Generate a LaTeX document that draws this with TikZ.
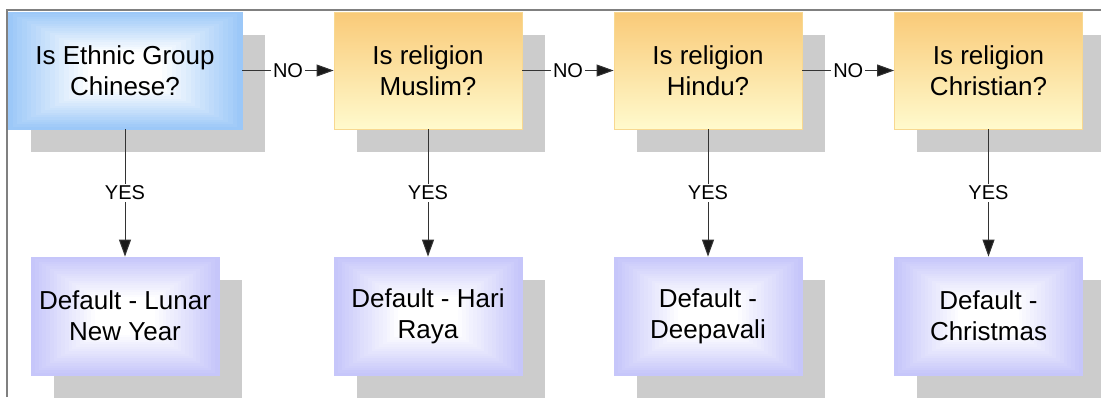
\documentclass[tikz,border=0pt]{standalone}
\usepackage{fontspec}
\setmainfont{Liberation Sans}
\usetikzlibrary{arrows.meta,calc,backgrounds}
\definecolor{blueE}{HTML}{9CC8F8}
\definecolor{lavE}{HTML}{C6C6FA}
\definecolor{orT}{HTML}{F9CA78}
\definecolor{orB}{HTML}{FFFACD}
\definecolor{orD}{HTML}{F8D890}
\definecolor{shadowc}{HTML}{CCCCCC}
\definecolor{framec}{HTML}{808080}
\tikzset{
  rectgrad/.style={path picture={
    \foreach \i in {0,...,24}{
      \pgfmathsetmacro\f{max(0,100-\i*100/17)}
      \fill[#1!\f!white] ($(path picture bounding box.north west)!{\i/50}!(path picture bounding box.south east)$) rectangle ($(path picture bounding box.south east)!{\i/50}!(path picture bounding box.north west)$);
    }}},
  boxtext/.style={align=center, inner sep=0pt, font=\fontsize{26}{31}\selectfont, text=black},
  qblue/.style={boxtext, rectangle, minimum width=234pt, minimum height=117pt, draw=blueE, line width=0.8pt, rectgrad=blueE},
  qorange/.style={boxtext, rectangle, minimum width=188pt, minimum height=117pt, top color=orT, bottom color=orB, draw=orD, line width=0.8pt},
  dbox/.style={boxtext, rectangle, minimum width=188pt, minimum height=118pt, draw=lavE, line width=0.8pt, rectgrad=lavE},
  conn/.style={draw=black!80, line width=1pt, -{Triangle[length=17pt,width=12pt,fill=black!90]}},
  lbl/.style={fill=white, inner sep=2pt, font=\fontsize{20}{24}\selectfont, text=black}
}
\begin{document}
\begin{tikzpicture}[x=1pt,y=-1pt]
\useasboundingbox (0,0) rectangle (1101,397);
\clip (0,0) rectangle (1101,397);

\node[qblue]   (q1) at (125,70.5)   {Is Ethnic Group\\Chinese?};
\node[qorange] (q2) at (428,70.5)   {Is religion\\Muslim?};
\node[qorange] (q3) at (708,70.5)   {Is religion\\Hindu?};
\node[qorange] (q4) at (988.5,70.5) {Is religion\\Christian?};

\node[dbox] (d1) at (125,316)   {Default - Lunar\\New Year};
\node[dbox] (d2) at (428,316)   {Default - Hari\\Raya};
\node[dbox] (d3) at (708,316)   {Default -\\Deepavali};
\node[dbox] (d4) at (988.5,316) {Default -\\Christmas};

\draw[conn] (q1.east) -- node[lbl]{NO} (q2.west);
\draw[conn] (q2.east) -- node[lbl]{NO} (q3.west);
\draw[conn] (q3.east) -- node[lbl]{NO} (q4.west);

\draw[conn] (q1.south) -- node[lbl]{YES} (d1.north);
\draw[conn] (q2.south) -- node[lbl]{YES} (d2.north);
\draw[conn] (q3.south) -- node[lbl]{YES} (d3.north);
\draw[conn] (q4.south) -- node[lbl]{YES} (d4.north);

\begin{scope}[on background layer]
  \foreach \n in {q1,q2,q3,q4,d1,d2,d3,d4}{
    \fill[shadowc] ([shift={(23,23)}]\n.north west) rectangle ([shift={(23,23)}]\n.south east);
  }
  \draw[framec, line width=2pt] (7,397) -- (7,10) -- (1101,10);
\end{scope}
\end{tikzpicture}
\end{document}
